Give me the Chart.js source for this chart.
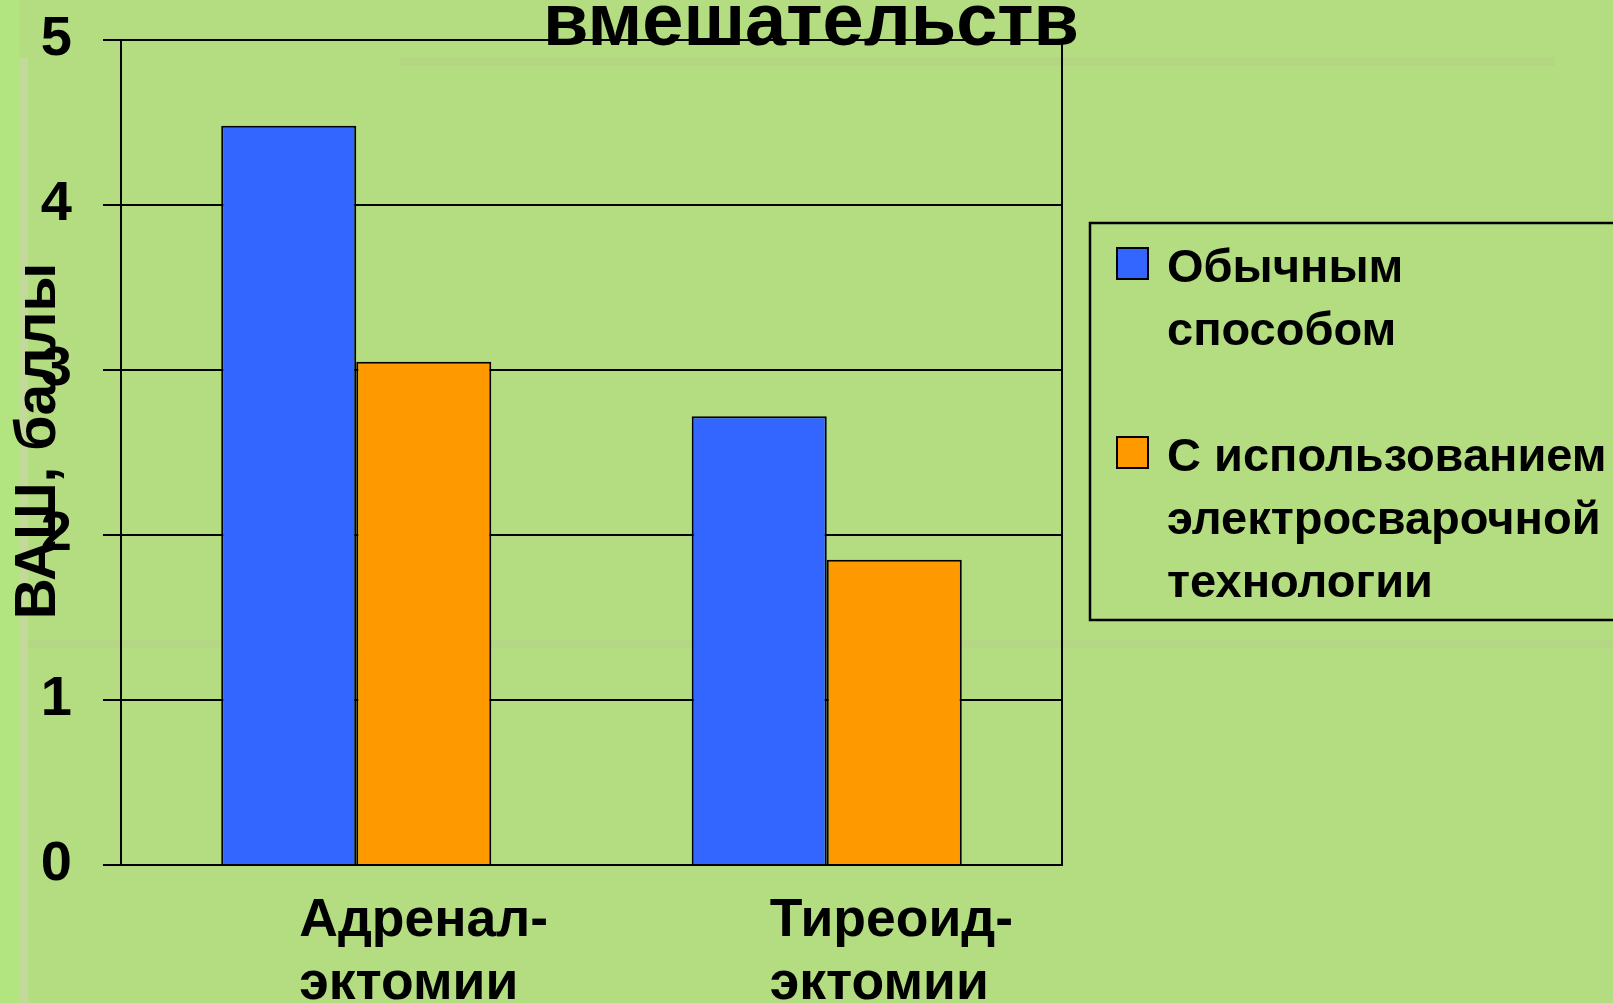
<!DOCTYPE html>
<html lang="ru">
<head>
<meta charset="utf-8">
<title>ВАШ, баллы</title>
<script src="https://cdn.jsdelivr.net/npm/chart.js@4"></script>
<style>
    html, body { margin: 0; padding: 0; }
    body { width: 1613px; height: 1003px; overflow: hidden; background: #b3dd80; position: relative; }
    .deco { position: absolute; }
    #chart { position: absolute; left: 0; top: 0; }
</style>
</head>
<body>
<!-- slide template decorations -->
<div class="deco" style="left:0;top:0;width:19px;height:1003px;background:#b2e47f;"></div>
<div class="deco" style="left:19px;top:58px;width:9px;height:945px;background:#c3d99a;"></div>
<div class="deco" style="left:400px;top:57px;width:1155px;height:9px;background:#b5d584;"></div>
<div class="deco" style="left:28px;top:640px;width:1585px;height:8px;background:#b5d684;"></div>
<canvas id="chart" width="1613" height="1003"></canvas>
<script>
const categories = [['Адренал-', 'эктомии'], ['Тиреоид-', 'эктомии']];
const seriesNames = [['Обычным', 'способом'], ['С использованием', 'электросварочной', 'технологии']];
const usualValues = [4.48, 2.72];
const weldingValues = [3.05, 1.85];
const yTicks = [0, 1, 2, 3, 4, 5];
const seriesColors = ['#3366ff', '#ff9900'];
const chartTitle = 'вмешательств';
const yTitle = 'ВАШ, баллы';

const FONT = "'Liberation Sans', Arial, sans-serif";

// title, axis title, frame and legend are drawn by hand so they can overlap like on the slide
const slideDecor = {
    id: 'slideDecor',
    afterDraw(chart) {
        const ctx = chart.ctx;
        const area = chart.chartArea;
        ctx.save();

        // right edge of the plot frame
        ctx.strokeStyle = '#000';
        ctx.lineWidth = 2;
        ctx.beginPath();
        ctx.moveTo(area.right, area.top);
        ctx.lineTo(area.right, area.bottom);
        ctx.stroke();

        // title (cut off at the top)
        ctx.fillStyle = '#000';
        ctx.font = 'bold 74px ' + FONT;
        ctx.textAlign = 'center';
        ctx.textBaseline = 'alphabetic';
        ctx.fillText(chartTitle, 811, 45);

        // y axis title
        ctx.save();
        ctx.translate(39, 441);
        ctx.rotate(-Math.PI / 2);
        ctx.font = 'bold 57px ' + FONT;
        ctx.textBaseline = 'middle';
        ctx.fillText(yTitle, 0, 0);
        ctx.restore();

        // legend box (runs off the right edge)
        ctx.lineWidth = 2.5;
        ctx.strokeRect(1090, 223, 560, 397);
        ctx.font = 'bold 47px ' + FONT;
        ctx.textAlign = 'left';
        const lineH = 63;
        let line = 0;
        chart.data.datasets.forEach((ds, i) => {
            const baseY = 282 + line * lineH;
            ctx.fillStyle = ds.backgroundColor;
            ctx.fillRect(1117, baseY - 34, 31, 31);
            ctx.lineWidth = 2;
            ctx.strokeRect(1117, baseY - 34, 31, 31);
            ctx.fillStyle = '#000';
            seriesNames[i].forEach((t, k) => {
                ctx.fillText(t, 1167, baseY + k * lineH);
            });
            line += seriesNames[i].length + 1;
        });
        ctx.restore();
    }
};

new Chart(document.getElementById('chart'), {
    type: 'bar',
    data: {
        labels: categories,
        datasets: [{
            label: seriesNames[0].join(' '),
            data: usualValues,
            backgroundColor: seriesColors[0],
            borderColor: '#000',
            borderWidth: 2,
            categoryPercentage: 0.574,
            barPercentage: 1
        }, {
            label: seriesNames[1].join(' '),
            data: weldingValues,
            backgroundColor: seriesColors[1],
            borderColor: '#000',
            borderWidth: 2,
            categoryPercentage: 0.574,
            barPercentage: 1
        }]
    },
    options: {
        responsive: false,
        animation: false,
        layout: { padding: { left: 0, right: 551, top: 40, bottom: 0 } },
        plugins: {
            legend: { display: false },
            title: { display: false },
            tooltip: { enabled: false }
        },
        scales: {
            x: {
                grid: { display: false, drawTicks: false },
                border: { display: true, color: '#000', width: 2 },
                ticks: {
                    color: '#000',
                    font: { family: FONT, size: 53.5, weight: 'bold', lineHeight: 1.18 },
                    align: 'start',
                    labelOffset: -57,
                    padding: 25,
                    maxRotation: 0,
                    autoSkip: false
                },
                afterFit(scale) { scale.height = 138; }
            },
            y: {
                min: 0,
                max: 5,
                afterBuildTicks(scale) { scale.ticks = yTicks.map(v => ({ value: v })); },
                grid: { color: '#000', lineWidth: 2, tickLength: 18, tickColor: '#000' },
                border: { display: true, color: '#000', width: 2 },
                ticks: {
                    color: '#000',
                    font: { family: FONT, size: 56, weight: 'bold' },
                    padding: 31
                },
                afterFit(scale) {
                    scale.width = 121;
                    scale.paddingTop = 0;
                    scale.paddingBottom = 0;
                }
            }
        }
    },
    plugins: [slideDecor]
});
</script>
</body>
</html>
